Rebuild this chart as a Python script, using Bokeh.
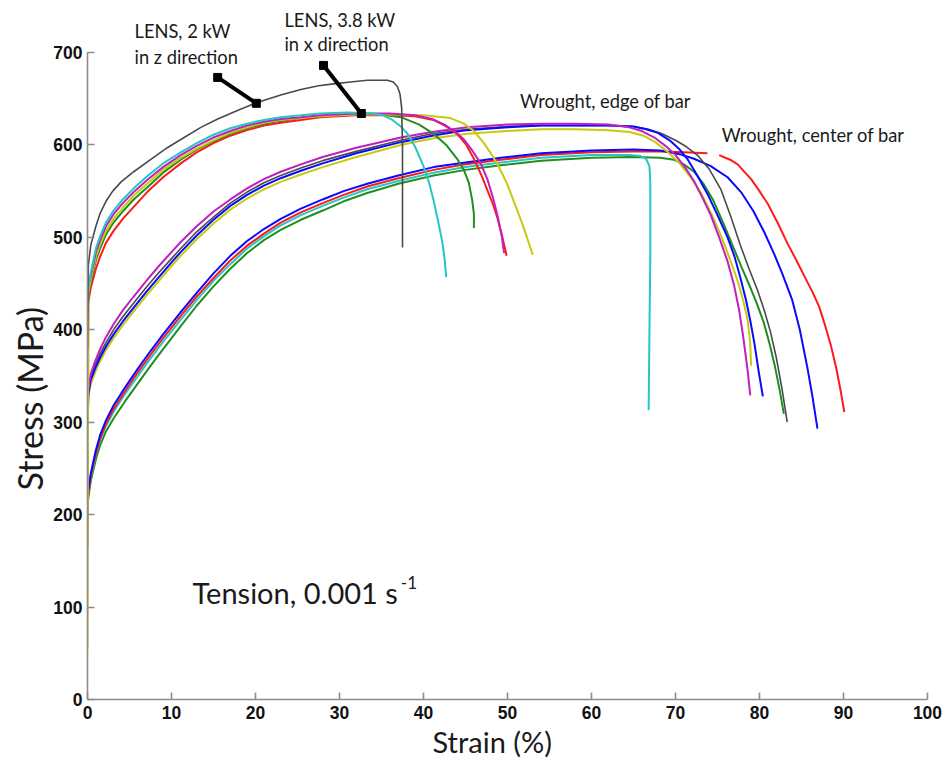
from bokeh.plotting import figure
from bokeh.models import Range1d, FixedTicker, Label, Title
from bokeh.embed import file_html
from bokeh.resources import INLINE

NaN = float("nan")

# ---------------- data ----------------
# LENS, 2 kW, z direction
lens2_k_x = [0, 0.1, 0.4, 1, 1.5, 2.2, 3, 4, 5.5, 7.5, 9.5, 11.5, 13.5, 15.5, 17.5, 20.2, 23, 25.4, 27.5, 29.3, 31.3, 33.3, 35.7, 36.4, 36.9, 37.2, 37.4, 37.5, 37.5]
lens2_k_y = [380, 470, 492, 512, 526, 539, 550, 560, 571, 584, 597, 608, 619, 628, 636, 646, 654, 660, 664, 666, 668, 670, 670, 668, 663, 655, 640, 600, 489]

# LENS, 3.8 kW, x direction
lens38_c_x = [0, 0.1, 0.4, 1, 1.5, 2.2, 3.1, 4.2, 5.5, 7.1, 9, 11.1, 13, 15, 17, 19, 21, 23, 25.4, 27.7, 31, 34, 35.2, 36.3, 37.3, 38.1, 39, 40, 40.7, 41.2, 41.7, 42.2, 42.5, 42.7]
lens38_c_y = [420, 445, 462, 488, 501, 516, 529, 541, 553, 566, 580, 592, 602, 611, 618, 623, 627, 630, 632, 634, 635, 634, 632, 627, 620, 612, 598, 577, 558, 540, 519, 497, 478, 457]
lens38_m_x = [0, 0.1, 0.4, 1, 1.5, 2.2, 3.1, 4.2, 5.5, 7.1, 9, 11.1, 13, 15, 17, 19, 21, 23, 25.4, 27.7, 32, 36, 39, 41, 42.5, 43.8, 44.8, 45.8, 46.8, 47.6, 48.3, 48.9, 49.3, 49.6]
lens38_m_y = [430, 448, 459, 484, 497, 512, 525, 537, 549, 562, 576, 589, 599, 608, 615, 621, 625, 628, 630, 632, 634, 634, 632, 628, 622, 614, 606, 594, 580, 563, 542, 520, 502, 483]
lens38_y_x = [0, 0.1, 0.4, 1, 1.5, 2.2, 3.1, 4.2, 5.5, 7.1, 9, 11.1, 13, 15, 17, 19, 21, 23, 25.4, 27.7, 32, 36, 40, 43.2, 44.8, 46, 47.2, 48.3, 49.2, 50, 50.7, 51.3, 51.9, 52.5, 53]
lens38_y_y = [55, 440, 455, 479, 492, 507, 520, 532, 545, 558, 573, 586, 596, 605, 613, 619, 624, 627, 629, 631, 633, 633, 632, 629, 623, 615, 602, 587, 572, 557, 540, 526, 511, 495, 481]
lens38_g_x = [0, 0.1, 0.4, 1, 1.5, 2.2, 3.1, 4.2, 5.5, 7.1, 9, 11.1, 13, 15, 17, 19, 21, 23, 25.4, 27.7, 32, 35, 37.3, 39.5, 41.2, 42.7, 44, 44.8, 45.4, 45.8, 46, 46]
lens38_g_y = [400, 440, 452, 475, 488, 503, 516, 528, 541, 554, 570, 584, 595, 604, 612, 618, 623, 626, 629, 631, 633, 633, 630, 622, 612, 600, 585, 573, 559, 540, 525, 510]
lens38_r_x = [0, 0.1, 0.4, 1, 1.5, 2.2, 3.1, 4.2, 5.5, 7.1, 9, 11.1, 13, 15, 17, 19, 21, 23, 25.4, 27.7, 32, 36, 39, 41.2, 42.7, 44, 45.1, 46, 46.9, 47.6, 48.3, 48.8, 49.4, 49.9]
lens38_r_y = [165, 430, 446, 466, 479, 494, 507, 520, 533, 549, 565, 580, 592, 602, 610, 616, 621, 624, 627, 630, 632, 632, 631, 627, 620, 612, 600, 585, 567, 551, 535, 521, 500, 480]

# Wrought, edge of bar
edge_m_x = [0, 0.1, 0.4, 1, 1.5, 2.2, 3.1, 4.2, 5.5, 7, 8.5, 10, 11.1, 13, 15, 17, 19, 21, 23, 25.4, 28, 32, 37.3, 41, 45.2, 50, 54, 58, 62, 64.5, 66, 67.5, 68.8, 70, 71.2, 72.2, 73.2, 74.2, 75.2, 76.2, 77, 77.6, 78.1, 78.6, 78.9]
edge_m_y = [300, 335, 353, 368, 379, 392, 406, 421, 436, 453, 469, 484, 495, 512, 528, 541, 553, 563, 571, 579, 587, 597, 608, 614, 619, 622, 623, 623, 622, 619, 615, 608, 599, 589, 575, 561, 543, 524, 500, 474, 447, 420, 390, 355, 329]
edge_b_x = [0, 0.1, 0.4, 1, 1.5, 2.2, 3.1, 4.2, 5.5, 7, 8.5, 10, 11.1, 13, 15, 17, 19, 21, 23, 25.4, 28, 32, 37.3, 41, 45.2, 50, 54, 58, 62, 65, 66.5, 67.9, 69.3, 70.5, 71.4, 72.6, 73.8, 75, 76.2, 77, 77.7, 78.4, 78.9, 79.4, 79.9, 80.4]
edge_b_y = [290, 330, 346, 360, 370, 382, 395, 409, 424, 441, 457, 473, 484, 502, 519, 534, 546, 556, 564, 572, 580, 591, 603, 610, 616, 619, 621, 621, 621, 620, 617, 613, 605, 595, 585, 567, 547, 524, 500, 480, 457, 432, 410, 385, 355, 328]
edge_k_x = [0, 0.1, 0.4, 1, 1.5, 2.2, 3.1, 4.2, 5.5, 7, 8.5, 10, 11.1, 13, 15, 17, 19, 21, 23, 25.4, 28, 32, 37.3, 41, 45.2, 50, 54, 58, 62, 65, 66.8, 68.4, 70, 71.3, 72.6, 74, 75.4, 76.6, 77.7, 78.8, 79.8, 80.6, 81.3, 82, 82.7, 83.3]
edge_k_y = [270, 335, 349, 364, 374, 386, 400, 414, 429, 446, 462, 477, 488, 506, 522, 537, 549, 559, 567, 575, 583, 593, 605, 612, 617, 620, 621, 621, 621, 620, 617, 612, 605, 598, 589, 574, 552, 522, 492, 465, 442, 420, 398, 370, 335, 300]
edge_y_x = [0, 0.1, 0.4, 1, 1.5, 2.2, 3.1, 4.2, 5.5, 7, 8.5, 10, 11.1, 13, 15, 17, 19, 21, 23, 25.4, 28, 32, 37.3, 41, 45.2, 50, 54, 58, 62, 64.5, 66.2, 67.6, 69, 70.4, 71.8, 73.1, 74.3, 75.5, 76.5, 77.4, 78.1, 78.6, 78.9, 79.0]
edge_y_y = [300, 328, 342, 356, 366, 378, 391, 405, 420, 437, 453, 469, 480, 498, 515, 530, 542, 552, 560, 568, 576, 587, 600, 607, 612, 615, 617, 617, 616, 614, 610, 603, 593, 581, 565, 547, 525, 500, 476, 453, 430, 410, 385, 361]

# Wrought, center of bar
center_b_x = [0, 0.05, 0.4, 1, 1.5, 2.2, 3.1, 4.5, 6, 7.5, 9, 11.1, 13, 15, 17, 19, 21, 23, 25.4, 28, 30.5, 33.3, 37, 41.2, 45, 49.2, 54, 60, 65, 68.2, 70.5, 72.2, 74.2, 76.2, 77.8, 79.3, 80.6, 81.7, 82.7, 83.9, 84.8, 85.7, 86.3, 86.9]
center_b_y = [200, 225, 245, 270, 286, 302, 318, 338, 358, 377, 395, 419, 440, 461, 480, 496, 509, 520, 531, 541, 550, 558, 567, 576, 581, 586, 591, 594, 595, 594, 590, 585, 577, 565, 549, 528, 505, 483, 461, 432, 400, 359, 328, 293]
center_r_x = [0, 0.05, 0.4, 1, 1.5, 2.2, 3.1, 4.5, 6, 7.5, 9, 11.1, 13, 15, 17, 19, 21, 23, 25.4, 28, 30.5, 33.3, 37, 41.2, 45, 49.2, 54, 60, 65, 68.2, 71, 73.8, NaN, 75.2, 76.5, 77.4, 78.1, 79, 80, 81, 82.2, 83.3, 84.4, 85.4, 86.3, 87.1, 87.8, 88.5, 89.1, 89.6, 90.1]
center_r_y = [190, 220, 242, 266, 282, 298, 314, 334, 354, 373, 391, 415, 436, 456, 475, 491, 504, 516, 527, 537, 546, 555, 564, 573, 579, 584, 589, 592, 593, 593, 592, 591, NaN, 589, 584, 579, 572, 563, 550, 536, 515, 494, 475, 457, 441, 425, 405, 383, 360, 337, 311]
center_c_x = [0, 0.05, 0.4, 1, 1.5, 2.2, 3.1, 4.5, 6, 7.5, 9, 11.1, 13, 15, 17, 19, 21, 23, 25.4, 28, 30.5, 33.3, 37, 41.2, 45, 49.2, 54, 60, 64.5, 65.8, 66.5, 66.9, 67.0, 67.0, 66.9, 66.8]
center_c_y = [210, 222, 240, 265, 281, 296, 311, 331, 350, 369, 387, 411, 432, 453, 471, 488, 501, 513, 524, 534, 543, 552, 561, 570, 576, 581, 586, 589, 589, 588, 585, 577, 560, 480, 400, 313]
center_g_x = [0, 0.05, 0.4, 1, 1.5, 2.2, 3.1, 4.5, 6, 7.5, 9, 11.1, 13, 15, 17, 19, 21, 23, 25.4, 28, 30.5, 33.3, 37, 41.2, 45, 49.2, 54, 60, 65, 68.2, 69.8, 71, 72.2, 73.4, 74.5, 75.7, 76.9, 77.9, 78.9, 79.7, 80.5, 81.2, 81.8, 82.4, 82.9]
center_g_y = [205, 215, 237, 260, 275, 290, 304, 323, 342, 361, 379, 404, 426, 447, 466, 483, 497, 508, 519, 529, 539, 548, 558, 567, 573, 578, 583, 586, 587, 586, 584, 579, 571, 557, 540, 515, 489, 467, 446, 428, 408, 385, 362, 335, 309]

x_ticks = [0, 10, 20, 30, 40, 50, 60, 70, 80, 90, 100]
y_ticks = [0, 100, 200, 300, 400, 500, 600, 700]

# annotation pointer lines (strain %, MPa)
ptr_x0 = [15.5, 28.1]
ptr_y0 = [673, 686]
ptr_x1 = [20.1, 32.6]
ptr_y1 = [645, 634]

# ---------------- styles ----------------
K = "#4a4a4a"
B = "#0a0aff"
R = "#ff1a1a"
G = "#1f8f1f"
C = "#26c6c6"
M = "#c21ec2"
Y = "#c9c90e"

series = [
    (center_g_x, center_g_y, G), (center_c_x, center_c_y, C), (center_r_x, center_r_y, R), (center_b_x, center_b_y, B),
    (edge_y_x, edge_y_y, Y), (edge_k_x, edge_k_y, K), (edge_b_x, edge_b_y, B), (edge_m_x, edge_m_y, M),
    (lens38_r_x, lens38_r_y, R), (lens38_g_x, lens38_g_y, G), (lens38_y_x, lens38_y_y, Y),
    (lens38_m_x, lens38_m_y, M), (lens38_c_x, lens38_c_y, C),
    (lens2_k_x, lens2_k_y, K),
]

# frame: 0..100 % over 840 px, 0..700 MPa over 647 px; top of frame reaches canvas top
Y_TOP = 699 / 0.9243

p = figure(width=942, height=760, x_range=Range1d(0, 100), y_range=Range1d(0, Y_TOP),
           output_backend="svg", toolbar_location=None,
           min_border_left=87, min_border_right=15, min_border_top=0, min_border_bottom=61)
p.outline_line_color = None
p.grid.visible = False
p.background_fill_color = "white"
p.border_fill_color = "white"

for xs, ys, col in series:
    p.line(xs, ys, line_color=col, line_width=2 if col != K else 1.6)

# pointer lines
p.segment(ptr_x0, ptr_y0, ptr_x1, ptr_y1, line_color="black", line_width=4)
p.scatter(ptr_x0 + ptr_x1, ptr_y0 + ptr_y1, marker="square", size=8, fill_color="black", line_color="black")

AX = "#8c8c8c"
for ax in (p.xaxis[0], p.yaxis[0]):
    ax.axis_line_color = AX
    ax.axis_line_width = 1.6
    ax.major_tick_line_color = AX
    ax.major_tick_line_width = 1.6
    ax.major_tick_in = 7
    ax.major_tick_out = 0
    ax.minor_tick_line_color = None
    ax.major_label_text_font = "Liberation Sans"
    ax.major_label_text_font_style = "bold"
    ax.major_label_text_font_size = "17.5px"
    ax.major_label_text_color = "#111111"

p.xaxis[0].bounds = (0, 100)
p.yaxis[0].bounds = (0, 700)
p.xaxis[0].ticker = FixedTicker(ticks=x_ticks)
p.yaxis[0].ticker = FixedTicker(ticks=y_ticks)
p.xaxis[0].major_label_standoff = 6
p.yaxis[0].major_label_standoff = 5

# axis titles, placed along the sides like the original
p.add_layout(Title(text="Stress (MPa)", align="left", offset=209, standoff=2,
                   text_font="Lato", text_font_size="34px", text_font_style="normal",
                   text_color="#1a1a1a"), "left")
p.add_layout(Title(text="Strain (%)", align="left", offset=345, standoff=0,
                   text_font="Lato", text_font_size="29px", text_font_style="normal",
                   text_color="#1a1a1a"), "below")

ANN = "#1a1a1a"
def lab(text, x, y, size):
    p.add_layout(Label(x=x, y=y, text=text, text_font="Lato", text_font_size=size,
                       text_color=ANN, text_baseline="alphabetic", text_align="left"))

lab("LENS, 2 kW", 5.6, 723.4, "18.3px")
lab("in z direction", 5.6, 695.4, "18.3px")
lab("LENS, 3.8 kW", 23.45, 735.4, "18.3px")
lab("in x direction", 23.45, 709.4, "18.3px")
lab("Wrought, edge of bar", 51.5, 647.4, "18.3px")
lab("Wrought, center of bar", 75.5, 611, "18.3px")
lab("Tension, 0.001 s", 12.5, 115.8, "29px")
lab("-1", 37.3, 126.8, "17px")

open("out.html", "w").write(file_html(p, INLINE))
